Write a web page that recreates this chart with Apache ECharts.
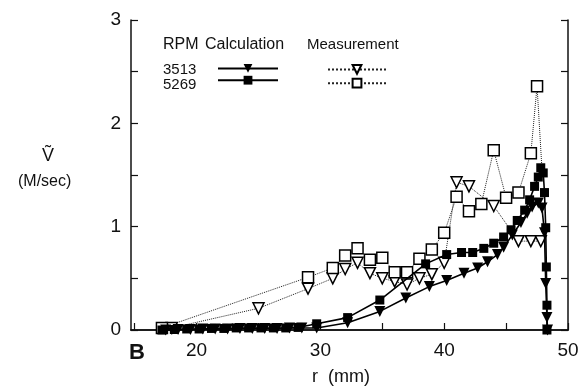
<!DOCTYPE html>
<html>
<head>
<meta charset="utf-8">
<script src="https://cdn.jsdelivr.net/npm/echarts@6/dist/echarts.min.js"></script>
<style>
html,body{margin:0;padding:0;background:#fff;}
#chart{width:583px;height:390px;}
</style>
</head>
<body>
<div id="chart"></div>
<script>
// ---- data (r in mm, V in M/sec) ----
var calc3513R = [17.5,18.5,19.5,20.5,21.5,22.5,23.5,24.5,25.5,26.5,27.5,28.5,29.7,32.2,34.8,36.9,38.8,40.2,41.6,42.7,43.5,44.3,44.8,45.5,46.2,46.7,47.1,47.6,47.9,48.1,48.2,48.3,48.35];
var calc3513V = [0.0,0.005,0.005,0.01,0.01,0.01,0.015,0.015,0.015,0.015,0.02,0.02,0.02,0.07,0.18,0.31,0.42,0.48,0.55,0.60,0.66,0.73,0.80,0.92,1.04,1.13,1.19,1.23,1.18,0.94,0.45,0.12,0.0];

var calc5269R = [17.2,18.2,19.2,20.2,21.2,22.2,23.2,24.2,25.2,26.2,27.2,28.2,29.7,32.2,34.8,38.5,40.2,41.4,42.3,43.2,44.0,44.8,45.4,45.9,46.5,46.9,47.3,47.6,47.8,48.0,48.1,48.2,48.25,48.3,48.3];
var calc5269V = [0.0,0.005,0.01,0.01,0.015,0.015,0.02,0.02,0.02,0.02,0.02,0.025,0.06,0.12,0.29,0.64,0.73,0.75,0.75,0.79,0.84,0.90,0.97,1.06,1.16,1.26,1.39,1.48,1.57,1.52,1.33,0.99,0.61,0.24,0.0];

var meas3513R = [18.0,25.0,29.0,31.0,32.0,33.0,34.0,35.0,36.0,37.0,38.0,39.0,40.0,41.0,42.0,44.0,46.0,47.0,47.8];
var meas3513V = [0.02,0.21,0.40,0.50,0.59,0.65,0.55,0.50,0.47,0.44,0.50,0.54,0.65,1.43,1.39,1.20,0.86,0.86,0.86];

var meas5269R = [17.2,29.0,31.0,32.0,33.0,34.0,35.0,36.0,37.0,38.0,39.0,40.0,41.0,42.0,43.0,44.0,45.0,46.0,47.0,47.5,47.9];
var meas5269V = [0.02,0.51,0.60,0.72,0.79,0.68,0.70,0.56,0.56,0.69,0.78,0.94,1.29,1.15,1.22,1.74,1.28,1.33,1.71,2.36,1.55];

var xTickLabels = [20,30,40,50];
var yTickLabels = [0,1,2,3];

function pairs(r, v){ return r.map(function(x,i){ return [x, v[i]]; }); }

var chart = echarts.init(document.getElementById('chart'), null, {renderer:'canvas'});
var FONT = '"Liberation Sans", Arial, Helvetica, sans-serif';
var INK = '#111';

var meas5269Data = pairs(meas5269R, meas5269V).map(function(p, i, arr){
  return i === arr.length - 1 ? {value: p, symbol: 'none'} : p;
});

function isTick(list, v){
  for (var i = 0; i < list.length; i++) { if (Math.abs(list[i] - v) < 1e-6) return true; }
  return false;
}

var option = {
  backgroundColor: '#fff',
  animation: false,
  grid: {left:131, right:15, top:20, bottom:60, show:false},
  xAxis: [{
    type:'value', min:14.7, max:50, splitNumber:7, position:'bottom',
    axisLine:{show:true, lineStyle:{color:INK, width:1.5}},
    axisTick:{show:true, inside:true, length:7, lineStyle:{color:INK, width:1.2}},
    splitLine:{show:false},
    axisLabel:{color:INK, fontSize:19, fontFamily:FONT, margin:11, showMinLabel:false,
      formatter:function(v){ return isTick(xTickLabels, v) ? String(v) : ''; }}
  },{
    type:'value', min:14.7, max:50, position:'top',
    axisLine:{show:true, lineStyle:{color:INK, width:1.5}},
    axisTick:{show:false}, axisLabel:{show:false}, splitLine:{show:false}
  }],
  yAxis: [{
    type:'value', min:0, max:3, interval:0.5, position:'left',
    axisLine:{show:true, lineStyle:{color:INK, width:1.5}},
    axisTick:{show:true, inside:true, length:7, lineStyle:{color:INK, width:1.2}},
    splitLine:{show:false},
    axisLabel:{color:INK, fontSize:19, fontFamily:FONT, margin:10,
      formatter:function(v){ return isTick(yTickLabels, v) ? String(v) : ''; }}
  },{
    type:'value', min:0, max:3, interval:0.5, position:'right',
    axisLine:{show:true, lineStyle:{color:INK, width:1.5}},
    axisTick:{show:true, inside:true, length:7, lineStyle:{color:INK, width:1.2}},
    axisLabel:{show:false}, splitLine:{show:false}
  }],
  legend: [{
    data:['3513 Calculation','5269 Calculation'],
    orient:'vertical', left:217, top:64, padding:0, itemWidth:60, itemHeight:11, itemGap:3,
    formatter:function(){ return ''; }, textStyle:{fontSize:8, lineHeight:10},
    selectedMode:false
  },{
    data:['3513 Measurement','5269 Measurement'],
    orient:'vertical', left:327, top:64, padding:0, itemWidth:58, itemHeight:11, itemGap:3,
    formatter:function(){ return ''; }, textStyle:{fontSize:8, lineHeight:10},
    selectedMode:false
  }],
  graphic: [
    {type:'text', left:163, top:37, style:{text:'RPM', font:'16px ' + FONT, fill:INK}},
    {type:'text', left:205, top:37, style:{text:'Calculation', font:'16px ' + FONT, fill:INK}},
    {type:'text', left:307, top:37, style:{text:'Measurement', font:'15px ' + FONT, fill:INK}},
    {type:'text', left:163, top:62, style:{text:'3513', font:'15px ' + FONT, fill:INK}},
    {type:'text', left:163, top:77, style:{text:'5269', font:'15px ' + FONT, fill:INK}},
    {type:'text', left:42, top:147, style:{text:'Ṽ', font:'18px ' + FONT, fill:INK}},
    {type:'text', left:18, top:174, style:{text:'(M/sec)', font:'16px ' + FONT, fill:INK}},
    {type:'text', left:129, top:342, style:{text:'B', font:'bold 22px ' + FONT, fill:INK}},
    {type:'text', left:312, top:368, style:{text:'r  (mm)', font:'18px ' + FONT, fill:INK}}
  ],
  series: [
    {
      name:'3513 Measurement', type:'line', data: pairs(meas3513R, meas3513V),
      symbol:'triangle', symbolRotate:180, symbolSize:11, z:2,
      lineStyle:{color:'#222', width:1, type:'dotted'},
      itemStyle:{color:'#fff', borderColor:'#000', borderWidth:1.5}
    },
    {
      name:'5269 Measurement', type:'line', data: meas5269Data,
      symbol:'rect', symbolSize:11, z:2,
      lineStyle:{color:'#222', width:1, type:'dotted'},
      itemStyle:{color:'#fff', borderColor:'#000', borderWidth:1.5}
    },
    {
      name:'3513 Calculation', type:'line', data: pairs(calc3513R, calc3513V),
      symbol:'triangle', symbolRotate:180, symbolSize:11, z:3,
      lineStyle:{color:'#000', width:1.6},
      itemStyle:{color:'#000', borderColor:'#000', borderWidth:0}
    },
    {
      name:'5269 Calculation', type:'line', data: pairs(calc5269R, calc5269V),
      symbol:'rect', symbolSize:9, z:3,
      lineStyle:{color:'#000', width:1.6},
      itemStyle:{color:'#000', borderColor:'#000', borderWidth:0}
    }
  ]
};
chart.setOption(option);
</script>
</body>
</html>
